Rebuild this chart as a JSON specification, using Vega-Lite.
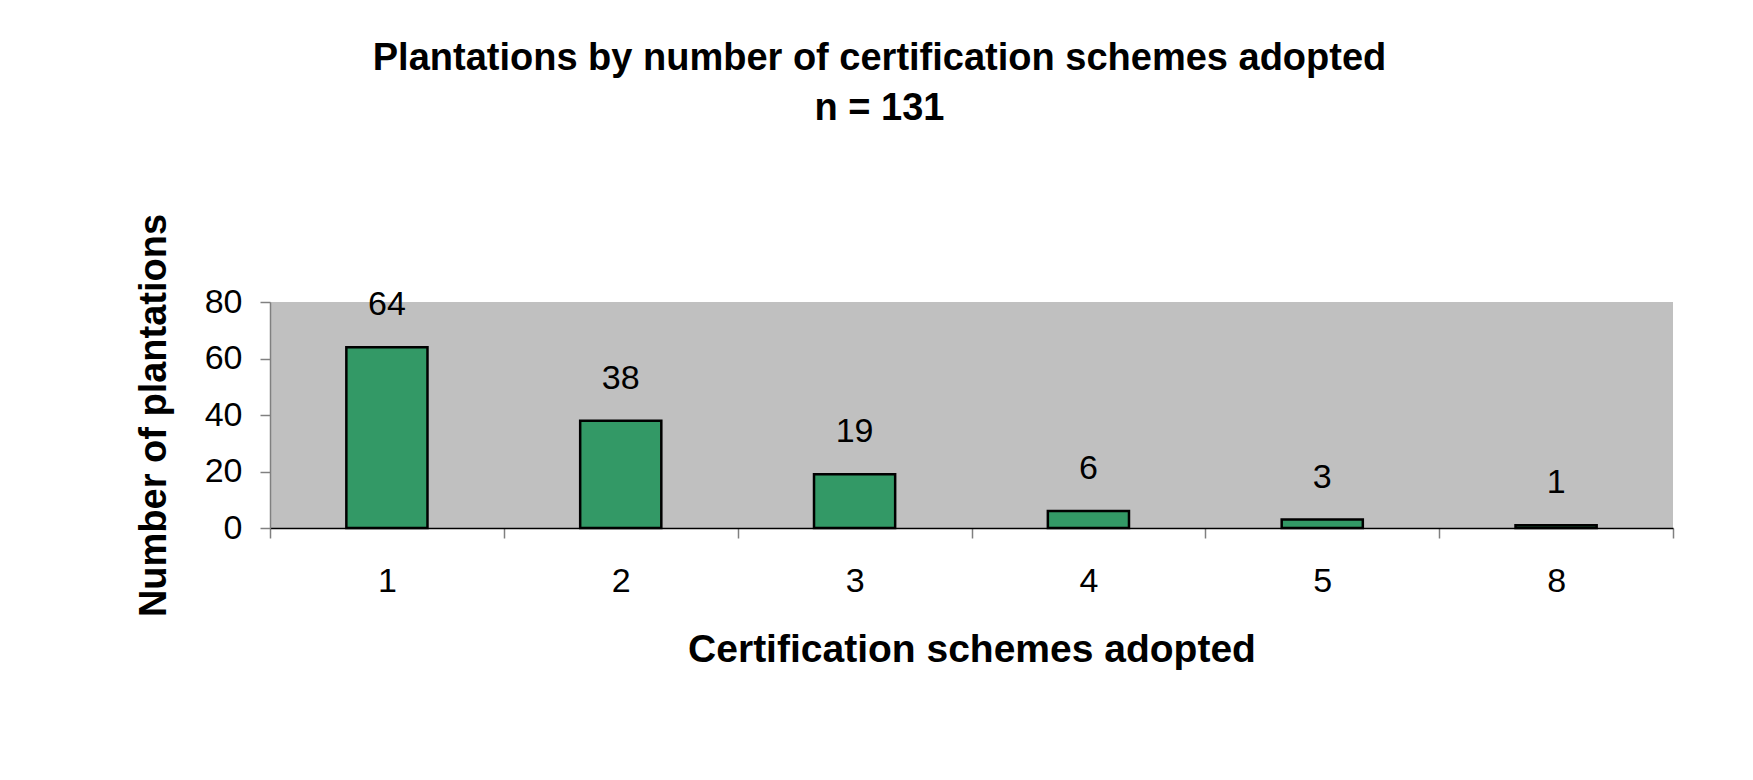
{
  "$schema": "https://vega.github.io/schema/vega-lite/v6.json",
  "width": 1403,
  "height": 226,
  "autosize": {"type": "none"},
  "padding": {"left": 270, "top": 302, "right": 80, "bottom": 252},
  "background": "white",
  "title": {
    "text": ["Plantations by number of certification schemes adopted", "n = 131"],
    "font": "Liberation Sans",
    "fontSize": 38,
    "fontWeight": "bold",
    "color": "black",
    "lineHeight": 50,
    "anchor": "middle",
    "frame": "group",
    "dx": -92,
    "offset": 85
  },
  "config": {
    "view": {"fill": "#C0C0C0", "stroke": null}
  },
  "data": {
    "values": [
      {"schemes": "1", "count": 64},
      {"schemes": "2", "count": 38},
      {"schemes": "3", "count": 19},
      {"schemes": "4", "count": 6},
      {"schemes": "5", "count": 3},
      {"schemes": "8", "count": 1}
    ]
  },
  "encoding": {
    "x": {
      "field": "schemes",
      "type": "ordinal",
      "sort": ["1", "2", "3", "4", "5", "8"],
      "scale": {"paddingInner": 0, "paddingOuter": 0},
      "axis": {
        "title": "Certification schemes adopted",
        "labelAngle": 0,
        "tickBand": "extent",
        "tickSize": 10,
        "tickColor": "#808080",
        "tickWidth": 1.5,
        "domainColor": "black",
        "domainWidth": 1.5,
        "labelFont": "Liberation Sans",
        "labelFontSize": 34,
        "labelColor": "black",
        "labelPadding": 26,
        "titleFont": "Liberation Sans",
        "titleFontSize": 39,
        "titleFontWeight": "bold",
        "titleColor": "black",
        "titlePadding": 32
      }
    },
    "y": {
      "field": "count",
      "type": "quantitative",
      "scale": {"domain": [0, 80]},
      "axis": {
        "title": "Number of plantations",
        "values": [0, 20, 40, 60, 80],
        "grid": false,
        "tickSize": 10,
        "tickColor": "#808080",
        "tickWidth": 1.5,
        "domainColor": "#808080",
        "domainWidth": 1.5,
        "labelFont": "Liberation Sans",
        "labelFontSize": 34,
        "labelColor": "black",
        "labelPadding": 18,
        "titleFont": "Liberation Sans",
        "titleFontSize": 38,
        "titleFontWeight": "bold",
        "titleColor": "black",
        "titlePadding": 31
      }
    }
  },
  "layer": [
    {
      "mark": {
        "type": "bar",
        "color": "#339966",
        "stroke": "black",
        "strokeWidth": 2.5,
        "width": {"band": 0.347}
      }
    },
    {
      "mark": {
        "type": "text",
        "font": "Liberation Sans",
        "fontSize": 34,
        "color": "black",
        "baseline": "alphabetic",
        "dy": -32
      },
      "encoding": {
        "text": {"field": "count", "type": "quantitative"}
      }
    }
  ]
}
